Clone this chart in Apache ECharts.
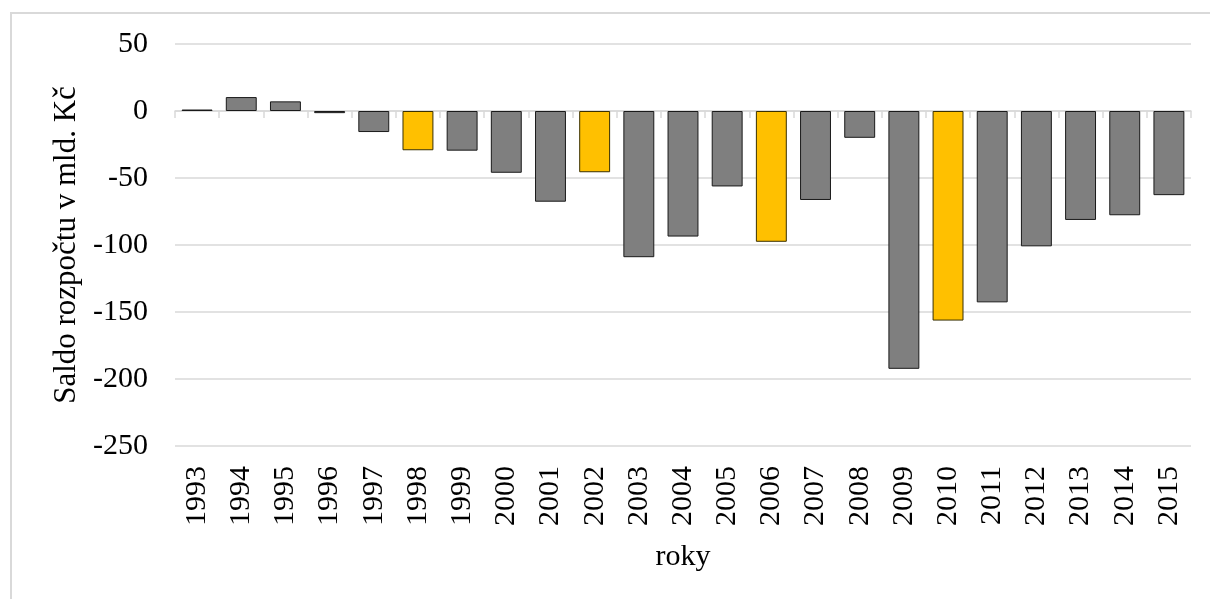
<!DOCTYPE html>
<html>
<head>
<meta charset="utf-8">
<script src="https://cdn.jsdelivr.net/npm/echarts@6/dist/echarts.min.js"></script>
<style>
  html, body { margin: 0; padding: 0; background: #fff; }
  #chart { width: 1210px; height: 599px; }
</style>
</head>
<body>
<div id="chart"></div>
<script>
// Saldo státního rozpočtu ČR (mld. Kč), 1993–2015
var years = ['1993','1994','1995','1996','1997','1998','1999','2000','2001','2002','2003','2004',
             '2005','2006','2007','2008','2009','2010','2011','2012','2013','2014','2015'];
var balance = [1.1, 10.4, 7.2, -1.6, -15.7, -29.3, -29.6, -46.1, -67.7, -45.7, -109.1, -93.7,
               -56.3, -97.6, -66.4, -20.0, -192.4, -156.4, -142.8, -101.0, -81.3, -77.8, -62.8];
// election years are drawn in yellow
var highlightYears = ['1998', '2002', '2006', '2010'];
var yTicks = { min: -250, max: 50, step: 50 };

var FONT = '"Liberation Serif", "Times New Roman", serif';
var GRID_COLOR = '#d9d9d9';

var barData = balance.map(function (v, i) {
  var hl = highlightYears.indexOf(years[i]) >= 0;
  return {
    value: v,
    itemStyle: {
      color: hl ? '#ffc000' : '#7f7f7f',
      borderColor: hl ? '#3a3000' : '#1a1a1a',
      borderWidth: 1
    }
  };
});

var chart = echarts.init(document.getElementById('chart'), null, { renderer: 'canvas' });
chart.setOption({
  animation: false,
  backgroundColor: '#fff',
  graphic: [{
    type: 'rect',
    shape: { x: 11, y: 13, width: 1400, height: 800 },
    style: { fill: 'none', stroke: GRID_COLOR, lineWidth: 2 },
    silent: true
  }],
  grid: { left: 175, right: 19, top: 44, bottom: 153 },
  xAxis: [{
    type: 'category',
    data: years,
    position: 'bottom',
    axisLine: { onZero: true, lineStyle: { color: GRID_COLOR, width: 1.5 } },
    axisTick: { show: true, length: 7, lineStyle: { color: GRID_COLOR, width: 1.5 } },
    axisLabel: { show: false },
    splitLine: { show: false }
  }, {
    type: 'category',
    data: years,
    position: 'bottom',
    axisLine: { show: false },
    axisTick: { show: false },
    axisLabel: {
      rotate: 90, margin: 20,
      fontFamily: FONT, fontSize: 30, color: '#000'
    },
    name: 'roky',
    nameLocation: 'middle',
    nameGap: 96,
    nameTextStyle: { fontFamily: FONT, fontSize: 30, color: '#000' }
  }],
  yAxis: {
    type: 'value',
    min: yTicks.min, max: yTicks.max, interval: yTicks.step,
    axisLine: { show: false },
    axisTick: { show: false },
    axisLabel: { margin: 27, fontFamily: FONT, fontSize: 30, color: '#000' },
    splitLine: { lineStyle: { color: GRID_COLOR, width: 1.5 } },
    name: 'Saldo rozpočtu v mld. Kč',
    nameLocation: 'middle',
    nameGap: 92,
    nameTextStyle: { fontFamily: FONT, fontSize: 31, color: '#000' }
  },
  series: [{
    type: 'bar',
    xAxisIndex: 0,
    data: barData,
    barCategoryGap: '30%'
  }]
});
</script>
</body>
</html>
